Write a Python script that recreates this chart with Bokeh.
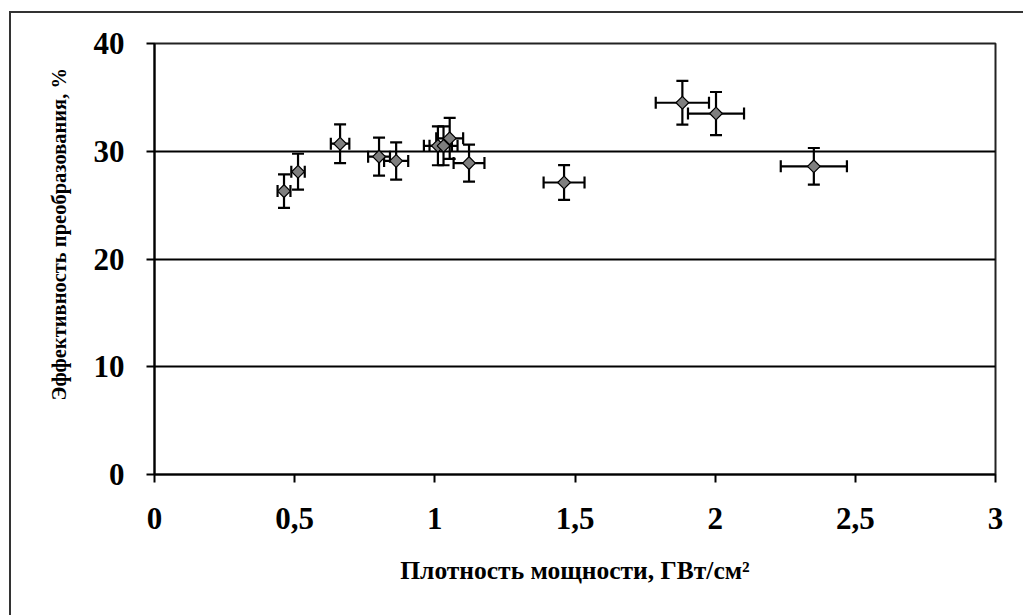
from bokeh.plotting import figure
from bokeh.models import Whisker, TeeHead, ColumnDataSource, FixedTicker, Title, Range1d
from bokeh.layouts import column
from bokeh.embed import file_html
from bokeh.resources import INLINE
import math

# Data
power_density = [0.462, 0.512, 0.662, 0.801, 0.862, 1.011, 1.031, 1.053, 1.122, 1.461, 1.883, 2.003, 2.352]
efficiency = [26.3, 28.1, 30.7, 29.5, 29.1, 30.5, 30.5, 31.2, 28.9, 27.1, 34.5, 33.5, 28.6]
x_err = [0.023, 0.024, 0.033, 0.039, 0.043, 0.050, 0.050, 0.048, 0.055, 0.073, 0.095, 0.100, 0.118]
y_err = [1.55, 1.67, 1.80, 1.77, 1.73, 1.80, 1.80, 1.90, 1.72, 1.62, 2.03, 2.00, 1.70]

x_ticks = [0, 0.5, 1, 1.5, 2, 2.5, 3]
x_tick_labels = ["0", "0,5", "1", "1,5", "2", "2,5", "3"]
y_ticks = [0, 10, 20, 30, 40]
y_tick_labels = ["0", "10", "20", "30", "40"]

x_title = "Плотность мощности, ГВт/см²"
y_title = "Эффективность преобразования, %"

FONT = "Liberation Serif"

src = ColumnDataSource(dict(
    x=power_density, y=efficiency,
    xl=[a - e for a, e in zip(power_density, x_err)],
    xu=[a + e for a, e in zip(power_density, x_err)],
    yl=[a - e for a, e in zip(efficiency, y_err)],
    yu=[a + e for a, e in zip(efficiency, y_err)],
))

p = figure(width=1012, height=602, output_backend="svg", toolbar_location=None,
           x_range=Range1d(0, 3), y_range=Range1d(0, 40),
           min_border_left=143, min_border_right=28, min_border_top=30, min_border_bottom=141)
p.title.visible = False

p.background_fill_color = "white"
p.border_fill_color = "white"
p.outline_line_color = "#222"
p.outline_line_width = 2

p.xgrid.visible = False
p.ygrid.grid_line_color = "black"
p.ygrid.grid_line_width = 2
p.ygrid.ticker = FixedTicker(ticks=y_ticks)

for ax in (p.xaxis[0], p.yaxis[0]):
    ax.axis_line_color = "black"
    ax.axis_line_width = 2
    ax.major_tick_line_color = "black"
    ax.major_tick_line_width = 2
    ax.major_tick_in = 0
    ax.major_tick_out = 8
    ax.minor_tick_line_color = None
    ax.major_label_text_font = FONT
    ax.major_label_text_font_style = "bold"
    ax.major_label_text_font_size = "31px"
    ax.major_label_text_color = "black"

p.xaxis[0].ticker = FixedTicker(ticks=x_ticks)
p.xaxis[0].major_label_overrides = {t: l for t, l in zip(x_ticks, x_tick_labels)}
p.xaxis[0].major_label_standoff = 25
p.yaxis[0].ticker = FixedTicker(ticks=y_ticks)
p.yaxis[0].major_label_overrides = {t: l for t, l in zip(y_ticks, y_tick_labels)}
p.yaxis[0].major_label_standoff = 22

# error bars
head = dict(size=12, line_width=2.2, line_color="black")
p.add_layout(Whisker(source=src, base="x", lower="yl", upper="yu", dimension="height",
                     line_color="black", line_width=2.2,
                     lower_head=TeeHead(**head), upper_head=TeeHead(**head)))
p.add_layout(Whisker(source=src, base="y", lower="xl", upper="xu", dimension="width",
                     line_color="black", line_width=2.2,
                     lower_head=TeeHead(**head), upper_head=TeeHead(**head)))

p.scatter("x", "y", source=src, marker="square", angle=math.pi / 4, size=9,
          fill_color="#7f7f7f", line_color="black", line_width=1.2)

# axis titles
p.add_layout(Title(text=x_title, text_font=FONT, text_font_style="bold",
                   text_font_size="25.5px", align="center", text_color="black",
                   standoff=45), "below")
p.add_layout(Title(text=y_title, text_font=FONT, text_font_style="bold",
                   text_font_size="20.5px", align="left", offset=74, text_color="black",
                   standoff=41), "left")

layout = column(p, styles={"margin-left": "9px", "margin-top": "11px",
                           "border-left": "2px solid #333", "border-top": "2px solid #333"})

open("out.html", "w").write(file_html(layout, INLINE))
